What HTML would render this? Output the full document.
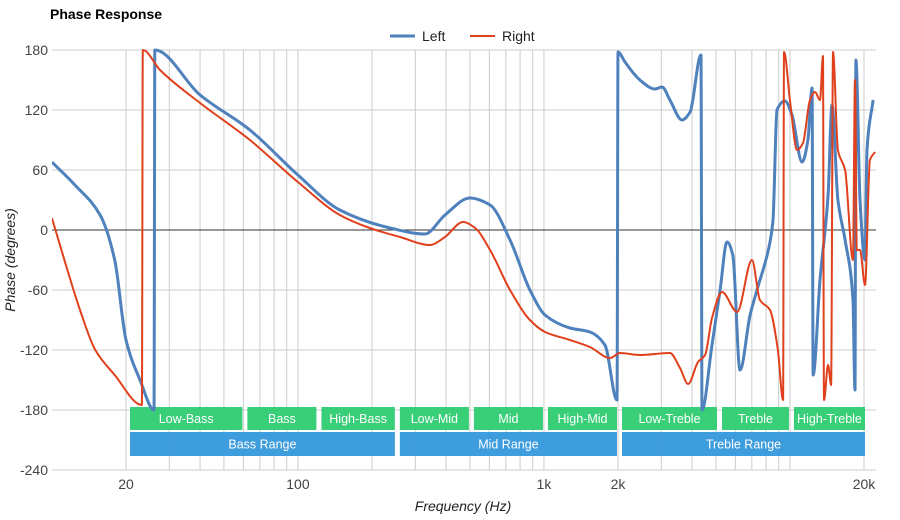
<!DOCTYPE html>
<html><head><meta charset="utf-8"><style>
body{margin:0;background:#fff;font-family:"Liberation Sans",Arial,sans-serif}
svg{display:block}
</style></head><body>
<svg id="chart" width="900" height="520">
<text x="50" y="19" font-size="14" font-weight="bold" fill="#000">Phase Response</text>
<g id="grid"></g>
<g id="bands"></g>
<g id="series"></g>
<g id="axes"></g>
<g>
<g><line x1="390" y1="36" x2="415" y2="36" stroke="#4f81bd" stroke-width="3"/><text x="422" y="41" font-size="14" fill="#222">Left</text></g>
<g><line x1="470" y1="36" x2="495" y2="36" stroke="#e0401c" stroke-width="2"/><text x="502" y="41" font-size="14" fill="#222">Right</text></g>
</g>
<text x="463" y="511" font-size="14" font-style="italic" text-anchor="middle" fill="#222">Frequency (Hz)</text>
<text transform="translate(15,260) rotate(-90)" font-size="14" font-style="italic" text-anchor="middle" fill="#222">Phase (degrees)</text>
</svg>
<script>
const yTicks=[180,120,60,0,-60,-120,-180,-240];
const xTickLabels=[20,100,1000,2000,20000];
const xTickText=["20","100","1k","2k","20k"];
const leftFreq=[10,12.4,15.7,18,20,22.8,26,26.2,40,63.8,100,148,237,328,396,500,604,728,877,1010,1276,1538,1770,1982,2000,2135,2455,2825,3020,3252,3640,3926,4350,4390,4820,5200,5550,5860,6265,6888,7345,8300,8530,8860,9550,10190,11200,11830,12300,12420,13250,14290,14820,15670,16750,18040,18380,18540,19270,20180,20560,21780];
const leftPhase=[68,45,15,-30,-110,-150,-180,180,135,100,55,20,2,-4,15,32,25,-10,-60,-85,-98,-102,-115,-170,178,168,150,141,143,130,110,118,175,-180,-115,-60,-12,-25,-140,-85,-60,-12,10,120,129,115,68,90,142,-145,-50,35,125,30,-10,-70,-160,170,30,-30,80,130];
const rightFreq=[10,11.3,13,15,18,23.2,23.4,27.5,40,63.8,100,148,196,260,344,396,469,525,604,728,877,1010,1276,1538,1855,2040,2455,3252,3572,3854,4228,4518,4820,5300,6100,7010,7550,8300,8930,9380,9460,10000,10690,11300,12060,12640,13250,13620,13750,14290,14700,14960,15670,16750,18040,18380,18700,19270,20180,21140,22180];
const rightPhase=[12,-32,-80,-120,-145,-175,180,160,127,90,48,15,2,-7,-15,-7,8,2,-20,-60,-90,-102,-110,-117,-128,-123,-125,-123,-138,-154,-132,-125,-88,-62,-82,-30,-70,-80,-120,-170,178,130,80,87,130,138,130,174,-170,-135,-155,178,80,60,-30,150,-20,-20,-55,70,78];
const bandsTop=[["Low-Bass",20,60],["Bass",60,120],["High-Bass",120,250],["Low-Mid",250,500],["Mid",500,1000],["High-Mid",1000,2000],["Low-Treble",2000,5100],["Treble",5100,10000],["High-Treble",10000,20000]];
const bandsBottom=[["Bass Range",20,250],["Mid Range",250,2000],["Treble Range",2000,20000]];

const NS="http://www.w3.org/2000/svg";
const X0=52,X1=876,Y0=50,Y1=470;
function xs(f){return 126+246*Math.log10(f/20);}
function ys(d){return 230-d;}
function mk(tag,attrs,parent){const e=document.createElementNS(NS,tag);for(const k in attrs)e.setAttribute(k,attrs[k]);parent.appendChild(e);return e;}
const grid=document.getElementById('grid'),axes=document.getElementById('axes'),bands=document.getElementById('bands'),series=document.getElementById('series');
const decs=[10,100,1000,10000];
decs.forEach(d=>{for(let m=1;m<=9;m++){const f=d*m;if(f<10.5||f>21000)continue;const x=xs(f);
 const l=mk('line',{x1:x,x2:x,y1:Y0,y2:Y1,stroke:'#ccc','stroke-width':1},grid);
 
 }});
yTicks.forEach(v=>{const y=ys(v);
 const l=mk('line',{x1:X0,x2:X1,y1:y,y2:y,stroke:v===0?'#333':'#ccc','stroke-width':1},grid);
 
 
 const t=mk('text',{x:48,y:y+5,'font-size':14,'text-anchor':'end',fill:'#444'},axes);t.textContent=v;
 
 });
xTickLabels.forEach((f,i)=>{const t=mk('text',{x:xs(f),y:489,'font-size':14,'text-anchor':'middle',fill:'#444'},axes);t.textContent=xTickText[i];
 
 });
function drawBands(arr,y,h,color){arr.forEach(b=>{const x1=xs(b[1])+4,x2=xs(b[2])+(b[2]>=20000?1:-1);
 const r=mk('rect',{x:x1,y:y,width:x2-x1,height:h,fill:color,opacity:0.95},bands);
 
 
 const t=mk('text',{x:(x1+x2)/2,y:y+h/2+4.5,'font-size':12.5,'text-anchor':'middle',fill:'#fff'},bands);t.textContent=b[0];
 
 });}
drawBands(bandsTop,407,23,'#2ecc71');
drawBands(bandsBottom,432,24,'#3498db');
const cp=mk('clipPath',{id:'clip'},series);
mk('rect',{x:X0,y:Y0-3,width:X1-X0,height:Y1-Y0+3},cp);
function monoPath(px,py){const n=px.length;const dx=[],s=[];for(let i=0;i<n-1;i++){dx[i]=px[i+1]-px[i];s[i]=(py[i+1]-py[i])/Math.max(dx[i],0.01);}
 const m=[s[0]];for(let i=1;i<n-1;i++){m[i]=(s[i-1]*s[i]<=0)?0:3*(dx[i-1]+dx[i])/((2*dx[i]+dx[i-1])/s[i-1]+(dx[i]+2*dx[i-1])/s[i]);}m[n-1]=s[n-2];
 let d='M'+px[0].toFixed(1)+','+py[0].toFixed(1);
 for(let i=0;i<n-1;i++){const h=dx[i]/3;d+='C'+(px[i]+h).toFixed(1)+','+(py[i]+m[i]*h).toFixed(1)+' '+(px[i+1]-h).toFixed(1)+','+(py[i+1]-m[i+1]*h).toFixed(1)+' '+px[i+1].toFixed(1)+','+py[i+1].toFixed(1);}
 return d;}
function drawLine(fr,ph,color,w,name){const px=fr.map(xs),py=ph.map(ys);
 const p=mk('path',{d:monoPath(px,py),fill:'none',stroke:color,'stroke-width':w,'stroke-linejoin':'round','clip-path':'url(#clip)'},series);
 
 }
drawLine(leftFreq,leftPhase,'#4f81bd',3,'left-series-line');
drawLine(rightFreq,rightPhase,'#e0401c',2,'right-series-line');
</script>
</body></html>
